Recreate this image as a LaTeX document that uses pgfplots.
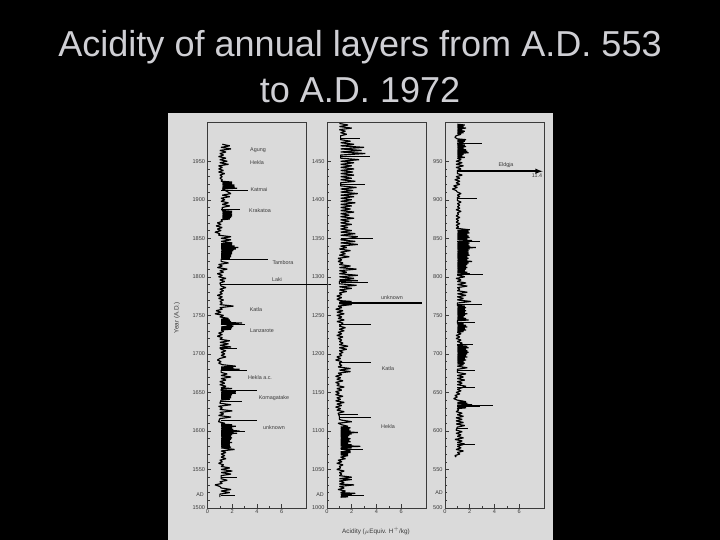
\documentclass[border=0pt]{standalone}
\usepackage{pgfplots}
\pgfplotsset{compat=1.18}
\usepackage{fontspec}
\setmainfont{Liberation Sans}
\definecolor{paper}{HTML}{DADADA}
\definecolor{ink}{HTML}{3A3A3A}
\definecolor{ttl}{HTML}{CFCFD4}
\pgfplotsset{panel/.style={
  scale only axis,width=98.8bp,height=385.3bp,anchor=south west,
  xmin=0,xmax=8,xtick={0,2,4,6},minor x tick num=1,minor y tick num=4,
  tick pos=left,tick align=inside,major tick length=3.5bp,minor tick length=2bp,
  every tick/.style={ink,line width=0.5bp},
  axis line style={ink,line width=0.6bp},
  tick label style={font=\fontsize{5.6}{6}\selectfont,text=ink,/pgf/number format/assume math mode=true,/pgf/number format/1000 sep={}},
  xticklabel style={yshift=1.5bp},yticklabel style={xshift=1bp},
  clip=false,unbounded coords=jump,
  data/.style={black,line width=1.15bp,line join=bevel},
  spike/.style={black,line width=1.0bp}
}}
\newcommand{\lab}[3]{\node[font=\fontsize{5.4}{6}\selectfont,text=ink,inner sep=0pt] at (#1bp,540bp-#2bp) {#3};}
\begin{document}
\begin{tikzpicture}
\fill[black] (0bp,0bp) rectangle (720bp,540bp);
\fill[paper] (168bp,0bp) rectangle (553bp,427bp);
\node[font=\fontsize{36.2}{40}\selectfont,text=ttl,inner sep=0pt] at (360bp,493bp) {Acidity of annual layers from A.D. 553};
\node[font=\fontsize{36.2}{40}\selectfont,text=ttl,inner sep=0pt] at (360bp,450bp) {to A.D. 1972};
\begin{axis}[panel,at={(207.5bp,32bp)},ymin=1500,ymax=2000,ytick={1500,1550,...,1950}]
\addplot[data] coordinates {(1.2,1972)(1.8,1970)(1.1,1968)(1.9,1966)(1.0,1964)(1.5,1962)(1.0,1960)(1.3,1958)(0.9,1956)(1.5,1954)(1.0,1952)(1.6,1950)(1.0,1948)(1.7,1946)(0.9,1944)(1.2,1942)(0.9,1940)(1.3,1938)(0.9,1936)(1.4,1934)(1.0,1932)(1.2,1930)(1.0,1928)(1.2,1926)
(1.1,1924)(2.0,1923)(1.2,1922)(2.0,1921)(1.2,1920)(2.2,1919)(1.2,1918)(2.2,1917)(1.2,1916)(2.4,1915)(1.2,1914)(1.9,1908)(1.2,1906)(1.8,1904)(1.1,1902)(1.4,1900)(1.1,1898)(1.7,1896)(1.2,1894)(1.8,1892)(1.2,1890)(1.2,1886)(2.0,1885)(1.2,1884)(2.0,1883)(1.2,1882)(2.0,1881)(1.2,1880)(2.0,1879)(1.2,1878)(1.9,1877)(1.2,1876)(1.8,1875)(1.1,1874)(1.2,1872)(0.8,1870)(1.1,1868)(0.7,1866)(1.2,1864)(0.8,1862)(1.1,1860)(0.6,1858)(1.0,1856)(0.9,1854)(1.9,1852)(1.1,1850)(1.9,1848)(1.1,1846)(2.0,1844)(1.1,1843)(2.0,1842)(1.1,1841)(2.2,1840)(1.1,1839)(2.5,1838)(1.1,1837)(2.3,1836)(1.1,1835)(2.1,1834)(1.1,1833)(2.0,1832)(1.1,1831)(2.0,1830)(1.1,1829)(1.9,1828)(1.1,1827)(1.9,1826)(1.1,1825)(1.8,1824)(1.1,1823)(1.1,1820)(1.7,1818)(0.9,1816)(1.2,1814)(0.8,1812)(1.6,1810)(1.0,1808)(1.3,1806)(0.8,1804)(1.2,1802)(0.9,1800)(1.5,1798)(1.0,1796)(1.4,1794)(1.0,1792)(1.1,1788)(1.5,1786)(1.0,1784)(1.3,1782)(1.0,1780)(1.2,1778)(0.8,1776)(1.2,1774)(0.9,1772)(1.3,1770)(1.0,1768)(1.2,1766)(1.0,1764)(2.1,1762)(1.0,1760)(1.2,1758)(0.7,1756)(1.1,1754)(0.6,1752)(1.3,1750)(1.0,1748)(1.7,1746)(1.1,1745)(1.8,1744)(1.1,1743)(1.9,1742)(1.1,1741)(2.8,1740)(1.1,1739)(2.1,1736)(1.1,1735)(2.0,1734)(1.1,1733)(1.9,1732)(1.1,1731)(1.3,1729)(0.9,1727)(1.2,1725)(0.8,1723)(1.2,1721)(1.0,1719)(1.8,1717)(1.0,1715)(1.7,1713)(1.0,1711)(1.9,1709)(1.0,1708)(1.1,1706)(1.5,1704)(1.1,1702)(1.4,1700)(1.1,1698)(1.5,1696)(1.0,1694)(0.8,1692)(1.1,1690)(0.9,1688)(1.2,1686)(2.3,1684)(1.1,1683)(2.1,1682)(1.1,1681)(2.6,1680)(1.1,1679)(1.1,1676)(1.6,1674)(1.1,1672)(1.9,1670)(1.1,1668)(1.5,1666)(1.0,1664)(1.4,1662)(1.0,1660)(1.5,1658)(1.1,1656)(2.0,1655)(1.1,1654)(1.1,1652)(2.3,1651)(1.1,1650)(2.3,1649)(1.1,1648)(2.0,1647)(1.1,1646)(1.9,1645)(1.1,1644)(1.9,1643)(1.1,1642)(1.8,1641)(1.1,1640)(1.0,1636)(1.9,1634)(0.9,1632)(1.2,1630)(1.0,1628)(2.0,1626)(1.0,1624)(1.3,1622)(0.9,1620)(1.9,1618)(1.0,1616)(0.9,1612)(1.4,1610)(1.1,1609)(2.0,1608)(1.1,1607)(2.3,1606)(1.1,1605)(2.0,1604)(1.1,1603)(2.1,1602)(1.1,1601)(2.6,1600)(1.1,1598)(2.4,1597)(1.1,1596)(2.0,1595)(1.1,1594)(1.9,1593)(1.1,1592)(2.0,1591)(1.1,1590)(1.9,1589)(1.1,1588)(1.8,1587)(1.1,1586)(2.0,1585)(1.1,1584)(1.8,1583)(1.1,1582)(1.8,1581)(1.1,1580)(1.9,1579)(1.1,1578)(2.2,1576)(1.1,1574)(1.5,1572)(1.1,1570)(1.4,1568)(1.1,1566)(1.5,1564)(1.0,1562)(1.2,1560)(0.9,1558)(1.3,1556)(1.1,1554)(1.8,1552)(1.1,1550)(2.0,1548)(1.1,1546)(1.9,1544)(1.1,1542)(1.1,1538)(1.6,1536)(1.0,1534)(1.2,1532)(0.6,1530)(1.0,1528)(1.1,1526)(1.9,1524)(1.1,1522)(1.8,1520)(1.0,1518)(1.0,1514)};
\addplot[spike] coordinates {(1.1,1912)(3.3,1912)(nan,nan)(1.1,1888)(2.6,1888)(nan,nan)(1.1,1822)(4.9,1822)(nan,nan)(1.1,1790)(10,1790)(nan,nan)(1.1,1738)(3.0,1738)(nan,nan)(1.1,1707)(2.35,1707)(nan,nan)(1.1,1678)(3.2,1678)(nan,nan)(1.1,1653)(4.0,1653)(nan,nan)(1.1,1638)(2.8,1638)(nan,nan)(1.1,1614)(4.0,1614)(nan,nan)(1.1,1599)(3.0,1599)(nan,nan)(1.1,1540)(2.4,1540)(nan,nan)(1.1,1516)(2.2,1516)};
\end{axis}
\begin{axis}[panel,at={(327bp,32bp)},ymin=1000,ymax=1500,ytick={1000,1050,...,1450}]
\addplot[data] coordinates {(1.0,1499)(1.7,1497)(1.0,1495)(2.0,1493)(1.0,1491)(1.5,1489)(1.1,1487)(1.6,1485)(1.1,1483)(1.1,1478)(1.9,1476)(1.1,1474)(2.2,1472)(1.1,1470)(3.0,1468)(1.1,1466)(2.8,1464)(1.1,1462)(3.1,1460)(1.1,1458)(1.1,1454)(2.6,1452)(1.1,1450)(2.2,1448)(1.1,1446)(2.0,1444)(1.1,1442)(2.2,1440)(1.1,1438)(2.1,1436)(1.1,1434)(2.2,1432)(1.1,1430)(2.0,1428)(1.1,1426)(2.3,1424)(1.1,1422)(1.1,1418)(2.4,1416)(1.1,1414)(2.1,1412)(1.1,1410)(2.5,1408)(1.1,1406)(2.2,1404)(1.1,1402)(2.0,1400)(1.1,1398)(2.3,1396)(1.1,1394)(2.0,1392)(1.1,1390)(1.9,1388)(1.1,1386)(2.2,1384)(1.1,1382)(1.8,1380)(1.1,1378)(2.2,1376)(1.1,1374)(1.8,1372)(1.1,1370)(2.0,1368)(1.1,1366)(1.7,1364)(1.1,1362)(2.0,1360)(1.1,1358)(2.3,1356)(1.1,1354)(2.5,1352)(1.1,1348)(2.3,1346)(1.1,1344)(2.5,1342)(1.1,1340)(1.6,1338)(1.0,1336)(1.9,1334)(1.1,1332)(1.5,1330)(1.0,1328)(1.8,1326)(0.9,1324)(1.2,1322)(0.9,1320)(1.3,1318)(1.0,1316)(1.9,1314)(1.0,1312)(2.4,1310)(1.0,1308)(1.6,1306)(1.0,1304)(2.5,1302)(1.0,1300)(2.2,1298)(1.0,1296)(2.5,1295)(1.0,1294)(1.0,1291)(2.4,1289)(1.0,1287)(2.0,1285)(1.0,1283)(1.6,1281)(1.0,1279)(1.2,1277)(0.8,1275)(1.2,1273)(0.8,1271)(1.1,1269)(2.0,1268)(1.0,1267)(2.0,1266)(1.0,1265)(2.0,1264)(0.9,1262)(1.2,1260)(0.7,1258)(1.3,1256)(0.8,1254)(1.4,1252)(0.8,1250)(1.2,1248)(0.9,1246)(1.4,1244)(0.8,1242)(1.3,1240)(1.0,1236)(1.5,1234)(1.0,1232)(1.4,1230)(0.9,1228)(1.2,1226)(0.8,1224)(1.3,1222)(0.9,1220)(1.2,1218)(1.0,1216)(1.3,1214)(1.0,1212)(1.7,1210)(1.0,1208)(1.6,1206)(1.0,1204)(1.3,1202)(1.0,1200)(1.2,1198)(0.8,1196)(1.1,1194)(0.7,1192)(1.2,1190)(1.0,1187)(1.2,1185)(0.9,1183)(1.9,1181)(1.0,1179)(1.9,1177)(0.9,1175)(1.2,1173)(0.7,1171)(1.1,1169)(0.8,1167)(1.3,1165)(0.7,1163)(1.0,1161)(0.8,1159)(1.4,1157)(0.8,1155)(1.2,1153)(0.7,1151)(1.0,1149)(0.7,1147)(1.3,1145)(0.8,1143)(1.1,1141)(0.7,1139)(1.4,1137)(0.8,1135)(1.2,1133)(0.7,1131)(1.1,1129)(0.8,1127)(1.4,1125)(0.9,1123)(1.0,1119)(1.0,1115)(1.2,1114)(2.0,1112)(0.9,1110)(1.2,1108)(1.7,1106)(1.1,1105)(1.9,1104)(1.1,1103)(1.8,1102)(1.1,1101)(1.9,1100)(1.1,1099)(2.5,1098)(1.1,1097)(2.0,1096)(1.1,1095)(1.8,1094)(1.1,1093)(1.7,1092)(1.1,1091)(1.9,1090)(1.1,1089)(1.8,1088)(1.1,1087)(1.9,1086)(1.1,1085)(1.7,1084)(1.1,1083)(2.0,1082)(1.1,1081)(2.7,1080)(1.1,1079)(2.0,1078)(1.1,1077)(1.9,1074)(1.1,1073)(1.9,1072)(1.1,1071)(1.7,1070)(1.1,1069)(1.7,1068)(1.1,1066)(1.5,1064)(0.9,1062)(1.2,1060)(0.8,1058)(1.3,1056)(1.0,1054)(1.1,1052)(0.8,1050)(1.4,1048)(1.0,1046)(1.2,1044)(1.0,1042)(2.0,1040)(1.0,1038)(2.0,1037)(1.0,1035)(1.4,1033)(1.0,1031)(2.2,1030)(1.0,1028)(1.4,1026)(0.9,1024)(1.5,1022)(1.1,1020)(2.3,1019)(1.1,1018)(2.0,1017)(1.1,1015)(1.7,1014.5)(1.1,1014)};
\addplot[spike] coordinates {(1.1,1480)(2.7,1480)(nan,nan)(1.1,1456)(3.5,1456)(nan,nan)(1.1,1420)(3.1,1420)(nan,nan)(1.1,1350)(3.7,1350)(nan,nan)(1.1,1293)(3.35,1293)(nan,nan)(1.0,1238)(3.6,1238)(nan,nan)(1.0,1189)(3.6,1189)(nan,nan)(1.0,1121)(2.5,1121)(nan,nan)(1.0,1117)(3.6,1117)(nan,nan)(1.1,1076)(2.9,1076)(nan,nan)(1.1,1016)(3.0,1016)};
\addplot[black,line width=2bp] coordinates {(1.0,1266)(7.7,1266)};
\end{axis}
\begin{axis}[panel,at={(445bp,32bp)},ymin=500,ymax=1000,ytick={500,550,...,950}]
\addplot[data] coordinates {(1.0,998)(1.6,997)(1.0,996)(1.5,995)(1.0,994)(1.7,993)(1.0,992)(1.4,991)(1.0,990)(1.6,989)(1.0,988)(1.5,987)(1.0,986)(1.3,985)(0.9,983)(0.8,981)(1.0,979)(1.7,978)(1.0,977)(1.6,976)(1.0,975)(1.5,974)(1.0,972)(1.6,971)(1.0,970)(1.7,969)(1.0,968)(1.5,967)(1.0,966)(1.7,965)(1.0,964)(1.8,963)(1.0,962)(1.9,961)(1.0,960)(1.5,959)(1.0,958)(1.4,957)(1.0,956)(1.6,955)(1.0,954)(1.3,952)(0.9,950)(1.4,948)(0.9,946)(1.5,944)(0.9,942)(1.3,940)(1.0,938)(1.0,934)(1.4,932)(0.9,930)(1.2,928)(0.8,926)(1.2,924)(0.9,922)(1.2,920)(0.7,918)(1.0,916)(0.6,914)(0.9,912)(1.0,910)(1.3,908)(1.0,906)(1.2,904)(1.0,903)(1.0,899)(1.3,897)(1.0,895)(1.2,893)(1.0,891)(1.2,889)(0.9,887)(1.3,885)(1.0,883)(1.1,881)(0.9,879)(1.2,877)(0.9,875)(1.1,873)(0.9,871)(1.2,869)(0.9,867)(1.1,865)(0.9,863)(2.0,861)(1.0,860)(1.9,859)(1.0,858)(2.0,857)(1.0,856)(1.8,855)(1.0,854)(1.9,853)(1.0,852)(2.0,851)(1.0,850)(1.8,849)(1.0,848)(2.2,847)(1.0,845)(2.0,844)(1.0,843)(1.9,842)(1.0,841)(2.0,840)(1.0,839)(2.5,838)(1.0,837)(2.0,836)(1.0,835)(1.9,834)(1.0,833)(1.9,832)(1.0,831)(1.9,830)(1.0,829)(2.0,828)(1.0,827)(1.8,826)(1.0,825)(1.9,824)(1.0,823)(1.8,822)(1.0,821)(2.2,820)(1.0,819)(1.9,818)(1.0,817)(1.8,816)(1.0,815)(1.7,814)(1.0,813)(1.8,812)(1.0,811)(1.7,810)(1.0,809)(1.6,808)(1.0,807)(1.8,806)(1.0,805)(2.0,804)(1.0,802)(1.6,800)(0.9,798)(1.3,796)(1.0,794)(1.7,792)(1.0,790)(1.8,788)(1.0,786)(1.2,784)(1.0,782)(1.8,780)(1.0,778)(1.7,776)(1.0,774)(1.5,772)(1.0,770)(2.1,768)(1.0,766)(1.0,763)(1.6,762)(1.0,761)(1.7,760)(1.0,759)(1.6,758)(1.0,757)(1.7,756)(1.0,755)(1.6,754)(1.0,753)(1.8,752)(1.0,751)(1.6,750)(1.0,749)(1.5,748)(1.0,747)(1.7,746)(1.0,745)(1.9,744)(1.0,743)(1.0,740)(1.5,739)(1.0,738)(1.7,737)(1.0,736)(1.8,735)(1.0,734)(1.6,733)(1.0,732)(1.7,731)(1.0,730)(1.5,729)(1.0,728)(1.3,726)(0.9,724)(1.2,722)(0.9,720)(1.3,718)(1.0,716)(1.4,714)(1.0,711)(1.8,710)(1.0,709)(1.9,708)(1.0,707)(1.7,706)(1.0,705)(1.8,704)(1.0,703)(1.9,702)(1.0,701)(1.8,700)(1.0,699)(1.7,698)(1.0,697)(1.8,696)(1.0,695)(1.6,694)(1.0,693)(1.7,692)(1.0,691)(1.5,690)(1.0,689)(1.6,688)(1.0,687)(1.5,686)(1.0,684)(1.8,682)(1.0,680)(1.0,676)(1.7,674)(1.0,672)(1.5,670)(1.0,668)(1.6,666)(1.0,664)(1.4,662)(1.0,660)(1.7,658)(1.0,654)(1.3,652)(0.9,650)(1.2,648)(0.8,646)(1.0,644)(0.7,642)(1.0,640)(1.7,638)(1.0,637)(1.8,636)(1.0,635)(2.2,634)(1.0,631)(1.7,630)(1.0,629)(1.1,627)(0.9,625)(1.4,623)(1.0,621)(1.5,619)(0.9,617)(1.4,615)(0.9,613)(1.5,611)(0.9,609)(1.6,607)(1.0,605)(0.9,601)(1.4,599)(0.9,597)(1.3,595)(1.0,593)(1.5,591)(0.8,589)(1.4,587)(1.0,585)(1.6,583)(1.0,580)(1.3,578)(0.9,576)(1.5,574)(1.0,572)(1.2,570)(0.8,568)(0.9,566)};
\addplot[spike] coordinates {(1.0,973)(3.0,973)(nan,nan)(1.0,901)(2.6,901)(nan,nan)(1.0,846)(2.8,846)(nan,nan)(1.0,803)(3.1,803)(nan,nan)(1.0,764)(3.0,764)(nan,nan)(1.0,741)(2.4,741)(nan,nan)(1.0,712)(2.3,712)(nan,nan)(1.0,678)(2.4,678)(nan,nan)(1.0,656)(2.4,656)(nan,nan)(1.0,633)(3.9,633)(nan,nan)(1.0,632)(2.8,632)(nan,nan)(1.0,603)(1.9,603)(nan,nan)(1.0,582)(2.4,582)};
\addplot[black,line width=1.5bp,-latex] coordinates {(1.0,937)(7.9,937)};
\end{axis}
\lab{258}{150}{Agung}\lab{257}{163}{Hekla}\lab{259}{190}{Katmai}\lab{260}{211}{Krakatoa}
\lab{283}{263}{Tambora}\lab{277}{280}{Laki}\lab{256}{310}{Katla}\lab{262}{331}{Lanzarote}
\lab{260}{378}{Hekla a.c.}\lab{274}{398}{Komagatake}\lab{274}{428}{unknown}\lab{200}{495}{AD}
\lab{392}{298}{unknown}\lab{388}{369}{Katla}\lab{388}{427}{Hekla}\lab{320}{495}{AD}
\lab{506}{165}{Eldgja}\lab{537}{176}{11.4}\lab{439}{493}{AD}
\node[font=\fontsize{6.4}{7}\selectfont,text=ink,inner sep=0pt,rotate=90] at (177bp,222bp) {Year (A.D.)};
\node[font=\fontsize{6.4}{7}\selectfont,text=ink,inner sep=0pt] at (376bp,9bp) {Acidity ($\mu$Equiv. H$^{+}$/kg)};
\end{tikzpicture}
\end{document}
